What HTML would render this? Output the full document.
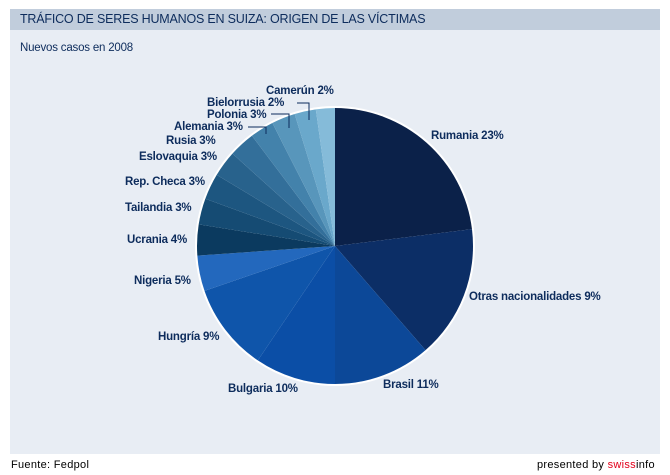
<!DOCTYPE html>
<html><head><meta charset="utf-8"><style>
body{margin:0;width:670px;height:475px;background:#fff;font-family:"Liberation Sans",sans-serif;position:relative;overflow:hidden}
.hdr{position:absolute;left:10px;top:9px;width:650px;height:21px;background:#c1cddc;color:#0d2c5c;font-size:12.5px;line-height:21px;padding-left:10px;box-sizing:border-box;letter-spacing:-0.2px}
.bd{position:absolute;left:10px;top:30px;width:650px;height:424px;background:#e8edf4}
.t{position:absolute;color:#0d2c5c;font-size:11.5px;font-weight:bold;white-space:nowrap;letter-spacing:-0.2px}
.f{position:absolute;top:459px;font-size:11px;color:#000;letter-spacing:0.3px}
</style></head><body>
<div class="hdr">TRÁFICO DE SERES HUMANOS EN SUIZA: ORIGEN DE LAS VÍCTIMAS</div>
<div class="bd"></div>
<div class="t" style="left:20px;top:42px;font-weight:normal">Nuevos casos en 2008</div>
<svg id="s" width="670" height="475" style="position:absolute;left:0;top:0"></svg>
<div class="t" style="left:266px;top:85px">Camerún 2%</div>
<div class="t" style="left:207px;top:97px">Bielorrusia 2%</div>
<div class="t" style="left:207px;top:109px">Polonia 3%</div>
<div class="t" style="left:174px;top:121px">Alemania 3%</div>
<div class="t" style="left:166px;top:135px">Rusia 3%</div>
<div class="t" style="left:139px;top:151px">Eslovaquia 3%</div>
<div class="t" style="left:125px;top:176px">Rep. Checa 3%</div>
<div class="t" style="left:125px;top:202px">Tailandia 3%</div>
<div class="t" style="left:127px;top:234px">Ucrania 4%</div>
<div class="t" style="left:134px;top:275px">Nigeria 5%</div>
<div class="t" style="left:158px;top:331px">Hungría 9%</div>
<div class="t" style="left:228px;top:383px">Bulgaria 10%</div>
<div class="t" style="left:383px;top:379px">Brasil 11%</div>
<div class="t" style="left:469px;top:291px">Otras nacionalidades 9%</div>
<div class="t" style="left:431px;top:130px">Rumania 23%</div>
<div class="f" style="left:11px">Fuente: Fedpol</div>
<div class="f" style="left:537px">presented by <span style="color:#e2001a">swiss</span>info</div>
<script>
var cx=335,cy=246,r=138,ns="http://www.w3.org/2000/svg",s=document.getElementById('s');
var w=[83,56,41,34,37,15,13,11,11,11,11,10,10,9,8];
var c=["#0b2149","#0c2e66","#0c4898","#0b4ea6","#0f55aa","#2368bd","#0b3a5f","#154b73","#1d5680","#28628c","#336f9a","#4382ab","#5896bb","#6aa8cb","#85bbd9"];
var bg=document.createElementNS(ns,'circle');bg.setAttribute('cx',cx);bg.setAttribute('cy',cy);bg.setAttribute('r',r+2);bg.setAttribute('fill','#fff');s.appendChild(bg);
var a=0;
function pt(d){var t=d*Math.PI/180;return [cx+r*Math.sin(t),cy-r*Math.cos(t)];}
for(var i=0;i<w.length;i++){var p1=pt(a),p2=pt(a+w[i]);var p=document.createElementNS(ns,'path');
p.setAttribute('d','M'+cx+','+cy+'L'+p1[0]+','+p1[1]+'A'+r+','+r+' 0 '+(w[i]>180?1:0)+' 1 '+p2[0]+','+p2[1]+'Z');p.setAttribute('fill',c[i]);s.appendChild(p);a+=w[i];}
var L=[[[297,103],[309,103],[309,120]],[[271,114],[289,114],[289,128]],[[248,127],[266,127],[266,134]]];
L.forEach(function(l){var q=document.createElementNS(ns,'polyline');q.setAttribute('points',l.map(function(x){return x.join(',')}).join(' '));q.setAttribute('fill','none');q.setAttribute('stroke','#0d2c5c');q.setAttribute('stroke-width','1');s.appendChild(q);});
</script>
</body></html>
